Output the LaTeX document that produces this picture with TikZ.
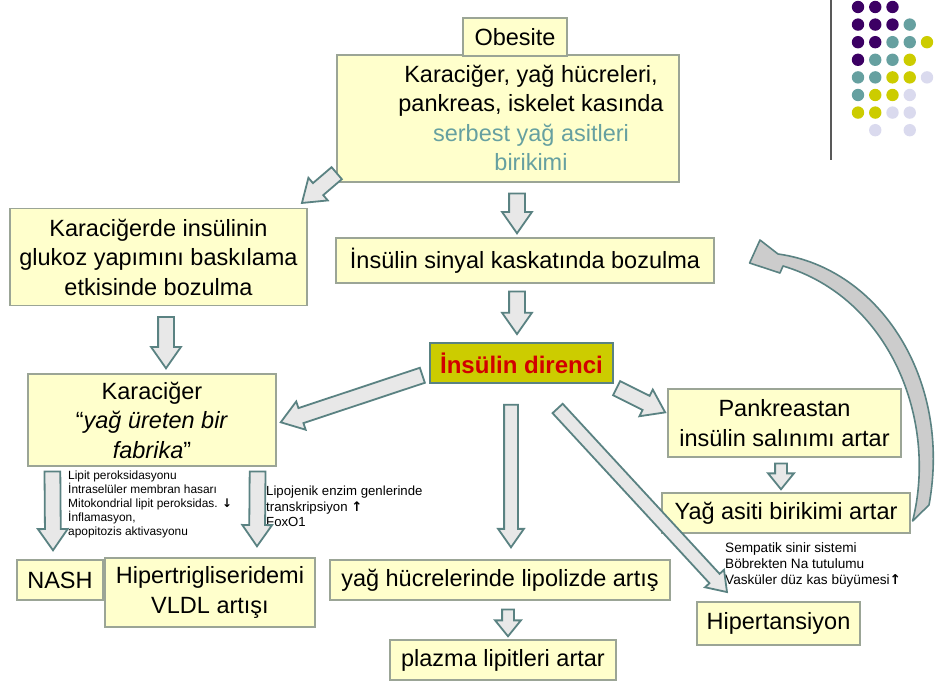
\documentclass[tikz,border=0pt]{standalone}
\usepackage{fontspec}
\setmainfont{Liberation Sans}
\newfontfamily\symfont{DejaVu Sans}
\usetikzlibrary{shapes.arrows,calc}
\definecolor{boxfill}{RGB}{255,255,204}
\definecolor{boxline}{RGB}{155,165,150}
\definecolor{arrline}{RGB}{90,130,130}
\definecolor{arrfill}{RGB}{232,232,232}
\definecolor{dirfill}{RGB}{204,204,0}
\definecolor{dirtext}{RGB}{210,0,0}
\definecolor{syatext}{RGB}{102,160,160}
\definecolor{dp}{RGB}{60,0,100}
\definecolor{dt}{RGB}{102,160,160}
\definecolor{dy}{RGB}{204,204,0}
\definecolor{dl}{RGB}{218,218,238}
\tikzset{
box/.style={draw=boxline, fill=boxfill, line width=1.2, inner sep=0, align=center,
  font=\fontsize{23.5}{29.5}\selectfont},
boxtxt/.style={inner sep=0, align=center, font=\fontsize{23.5}{29.5}\selectfont},
smalltxt/.style={inner sep=0, anchor=north west, align=left},
blockarrow/.style={draw=arrline, fill=arrfill, line width=1.8, single arrow,
  inner sep=0, inner ysep=7, single arrow head extend=7, single arrow tip angle=70,
  anchor=tail},
thinarrow/.style={inner ysep=6, single arrow head extend=6},
shortarrow/.style={inner ysep=5, single arrow head extend=7, single arrow tip angle=78},
curvearrow/.style={draw=arrline, fill=gray!40, line width=1.6, line join=round}
}
% block arrow from #3 to #4, named #2
\newcommand{\bigarrow}[4][]{%
  \path let \p1=#3, \p2=#4, \n1={atan2(\y2-\y1,\x2-\x1)}, \n2={veclen(\x2-\x1,\y2-\y1)} in
    node[blockarrow, #1, minimum height=\n2, rotate=\n1] (#2) at (\p1) {};}
\newcommand{\up}{{\symfont\bfseries ↑}}
\newcommand{\down}{{\symfont\bfseries ↓}}

\begin{document}
\begin{tikzpicture}[x=1pt, y=-1pt]
\useasboundingbox (0,0) rectangle (940,684);

% dots
\draw[gray!70!black, line width=1.2] (831,0) -- (831,160);
\foreach \dotrow [count=\r from 0] in {{dp,dp,dp},{dp,dp,dp,dt},{dp,dp,dt,dt,dy},{dp,dt,dt,dy},
    {dt,dt,dy,dy,dl},{dt,dy,dy,dl},{dy,dy,dl,dl},{none,dl,none,dl}}
  \foreach \c [count=\k from 0] in \dotrow
    \fill[fill=\c] (858+17.25*\k, 7+17.6*\r) circle (6.2);

% boxes
\node[box, minimum width=342, minimum height=127] (big) at (508,118.5) {};
\node[boxtxt] (bigtxt) at (531,118) {Karaciğer, yağ hücreleri,\\pankreas, iskelet kasında\\
  \textcolor{syatext}{serbest yağ asitleri}\\\textcolor{syatext}{birikimi}};
\node[box, minimum width=104, minimum height=38] (obes) at (515,37) {Obesite};
\node[box, minimum width=297, minimum height=97] (karde) at (158.5,257)
  {Karaciğerde insülinin\\glukoz yapımını baskılama\\etkisinde bozulma};
\node[box, minimum width=378, minimum height=45] (sinyal) at (525,260.5) {İnsülin sinyal kaskatında bozulma};
\node[box, fill=dirfill, draw=arrline, line width=1.6, minimum width=183, minimum height=40,
  font=\fontsize{24}{29}\selectfont\bfseries, text=dirtext] (direnci) at (521.5,363) {İnsülin direnci};
\node[box, minimum width=248, minimum height=92] (kara) at (152,420)
  {Karaciğer\\“\textit{yağ üreten bir}\\\textit{fabrika}”};
\node[box, minimum width=233, minimum height=68] (pank) at (784.5,423) {Pankreastan\\insülin salınımı artar};
\node[box, minimum width=248, minimum height=40] (yag) at (786,513) {Yağ asiti birikimi artar};
\node[box, minimum width=86, minimum height=40] (nash) at (60,580) {NASH};
\node[box, minimum width=210, minimum height=69] (hiper) at (210,592.5) {Hipertrigliseridemi\\VLDL artışı};
\node[box, minimum width=340, minimum height=40] (lipo) at (500,580) {yağ hücrelerinde lipolizde artış};
\node[box, minimum width=226, minimum height=40] (plazma) at (503,660) {plazma lipitleri artar};
\node[box, minimum width=163, minimum height=43] (hipt) at (778.5,623.5) {Hipertansiyon};

% small notes
\node[smalltxt, font=\fontsize{11.9}{14}\selectfont] (lipit) at (68,471)
  {Lipit peroksidasyonu\\İntraselüler membran hasarı\\Mitokondrial lipit peroksidas. \down\\
   İnflamasyon,\\apopitozis aktivasyonu};
\node[smalltxt, font=\fontsize{13.2}{15.5}\selectfont] (lipoj) at (266,486)
  {Lipojenik enzim genlerinde\\transkripsiyon \up\\FoxO1};
\node[smalltxt, font=\fontsize{13.6}{16}\selectfont] (sempa) at (725,542)
  {Sempatik sinir sistemi\\Böbrekten Na tutulumu\\Vasküler düz kas büyümesi\up};

% arrows
\bigarrow{a1}{($(big.south west)+(1,-10)$)}{($(karde.north east)+(-5,-5.5)$)}
\bigarrow{a2}{($(big.south)+(9,10)$)}{($(sinyal.north)+(-8,-5)$)}
\bigarrow{a3}{($(sinyal.south)+(-8,7)$)}{($(direnci.north)+(-4.5,-9)$)}
\bigarrow{a4}{($(karde.south)+(7.5,10)$)}{($(kara.north)+(14,-6)$)}
\bigarrow{a5}{($(direnci.west)+(-6,12)$)}{($(kara.east)+(5,2)$)}
\bigarrow{a6}{($(direnci.south east)+(2,4)$)}{($(pank.west)+(-3,-11)$)}
\bigarrow[thinarrow]{a7}{($(direnci.south)+(-10.5,20)$)}{($(lipo.north)+(11,-13)$)}
\bigarrow[thinarrow]{a8}{($(direnci.south)+(35.5,24)$)}{($(hipt.north west)+(30,-10)$)}
\bigarrow[shortarrow]{a9}{($(pank.south)+(-3.5,5)$)}{($(yag.north)+(-5,-4)$)}
\bigarrow{a10}{($(kara.south west)+(25,4)$)}{($(nash.north)+(-7,-10)$)}
\bigarrow{a11}{($(kara.south east)+(-19,4)$)}{($(hiper.north)+(47,-12)$)}
\bigarrow[shortarrow]{a12}{($(lipo.south)+(8,8)$)}{($(plazma.north)+(5,-4)$)}

% feedback arrow
\coordinate (tail) at ($(yag.east)+(2,8)$);
\coordinate (tip) at ($(sinyal.east)+(35,2.5)$);
\draw[curvearrow] (tail) .. controls (938,420) and (890,298) .. (783,266) -- (780,273) -- (tip)
  -- (760,240) -- (778,254) .. controls (880,268) and (952,380) .. (929,505) -- cycle;
\end{tikzpicture}
\end{document}
